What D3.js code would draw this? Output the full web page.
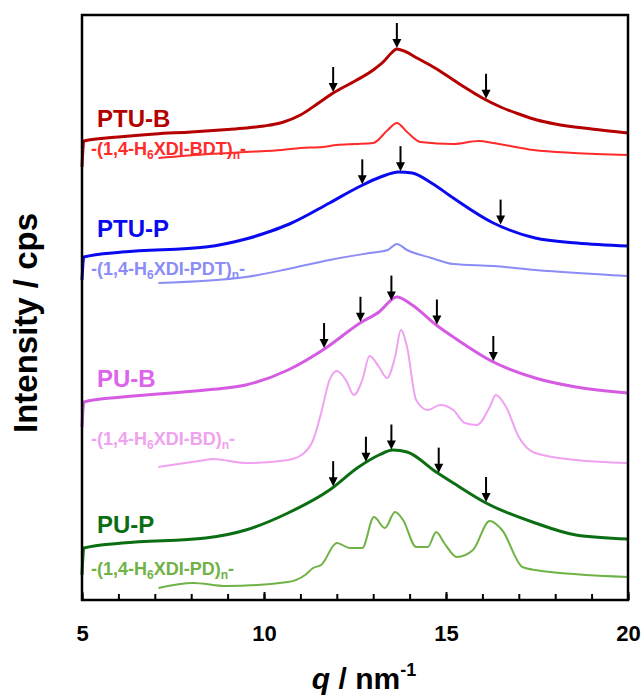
<!DOCTYPE html>
<html>
<head>
<meta charset="utf-8">
<script src="https://cdn.jsdelivr.net/npm/d3@7"></script>
<style>
  body { margin: 0; background: #fff; }
  text { font-family: Arial, "Liberation Sans", sans-serif; font-weight: bold; }
</style>
</head>
<body>
<div class="chart"></div>
<script>
const WIDTH = 644;
const HEIGHT = 700;

const LEFT = 82, RIGHT = 628, TOP = 15, BOTTOM = 600;

// intensity in arbitrary units (offset stacked), q in nm^-1
var ptuB = [[5.0,433],[5.05,459],[6,463],[7,466],[8,468],[9,470.5],[9.5,472],[10,474],[10.5,477.5],[11,485],[11.5,497],[11.9,507],[12.5,519],[13,530],[13.3,539],[13.5,547],[13.65,551],[13.85,549],[14.2,542],[14.7,532],[15,525],[15.5,513],[16,502],[16.5,493],[17,486],[17.5,480],[18,476],[19,471],[20,467]];
var bdt = [[7.1,442],[8.5,446],[9.5,448],[10.5,450],[11,452],[11.6,453],[12,455],[12.5,456],[13,457],[13.4,470],[13.65,477],[13.93,468],[14.3,458],[15.2,456],[15.9,459],[16.3,457],[17.4,450],[18.5,447],[20,445]];
var ptuP = [[5.0,320],[5.05,343],[6.1,348],[8.4,353],[9.5,361],[10.2,369],[10.7,376],[11.8,397],[12.6,413],[13.2,423],[13.7,428],[14.07,427],[14.6,417],[15.2,402],[16.3,377],[17.45,362],[18.6,357],[20,354]];
var pdt = [[7.1,317],[9.5,323],[10.66,331],[11.8,340],[12.9,347],[13.4,350],[13.65,356],[13.93,350],[14.6,342],[15.2,336],[16.3,334],[17.45,330],[20,324]];
var puB = [[5.0,173],[5.05,198],[6.1,203],[8.4,210],[9.5,215],[10.66,230],[11.7,252],[12.64,277],[13.16,288],[13.65,303],[14.07,295],[14.73,275],[15.2,263],[16.3,238],[17.45,222],[18.57,213],[20,207]];
var bd = [[7.1,133],[8.4,140],[8.6,141],[9.5,137],[10.66,140],[11.1,147],[11.35,160],[11.57,187],[11.8,220],[12.0,229],[12.25,220],[12.47,205],[12.7,220],[12.9,244],[13.16,233],[13.38,222],[13.6,243],[13.76,270],[13.93,253],[14.18,200],[14.5,190],[14.84,195],[15.2,190],[15.52,177],[15.85,175],[16.2,193],[16.37,205],[16.65,193],[17.0,163],[17.45,147],[18.57,140],[20,137]];
var puP = [[5.0,25],[5.05,52],[6.1,57],[8.4,62],[9.5,70],[10.66,87],[11.8,110],[12.6,133],[13.16,145],[13.54,150],[13.93,148],[14.73,128],[15.2,117],[16.1,97],[17.45,77],[18.57,65],[20,61]];
var pd = [[7.1,12],[8.05,17],[8.96,14],[10.66,18],[11.13,25],[11.35,32],[11.57,35],[12.0,57],[12.36,52],[12.7,52],[13.02,83],[13.32,72],[13.6,88],[13.82,80],[14.18,53],[14.5,53],[14.73,68],[14.95,57],[15.3,43],[15.74,50],[16.2,79],[16.54,70],[17.1,33],[17.45,30],[20,23]];

var ptuBArrows = [11.9, 13.65, 16.1];
var ptuPArrows = [12.7, 13.75, 16.5];
var puBArrows = [11.65, 12.65, 13.5, 14.75, 16.3];
var puPArrows = [11.9, 12.8, 13.5, 14.8, 16.1];

var xTicks = [5, 10, 15, 20];

var series = [
    {data: ptuB, color: '#b40000', width: 3, arrows: ptuBArrows},
    {data: bdt, color: '#ff2a2a', width: 2},
    {data: ptuP, color: '#0a0af0', width: 3, arrows: ptuPArrows},
    {data: pdt, color: '#8c8cf6', width: 2},
    {data: puB, color: '#d55ce2', width: 3, arrows: puBArrows},
    {data: bd, color: '#f0a2f0', width: 2},
    {data: puP, color: '#0c6e12', width: 3, arrows: puPArrows},
    {data: pd, color: '#6fb245', width: 2}
];

var labels = [
    {main: 'PTU-B', color: '#b40000', y: 127},
    {pre: '-(1,4-H', sub: '6', mid: 'XDI-BDT)', sub2: 'n', post: '-', color: '#ff2a2a', y: 155},
    {main: 'PTU-P', color: '#0a0af0', y: 237},
    {pre: '-(1,4-H', sub: '6', mid: 'XDI-PDT)', sub2: 'n', post: '-', color: '#8c8cf6', y: 275},
    {main: 'PU-B', color: '#dc64ea', y: 387},
    {pre: '-(1,4-H', sub: '6', mid: 'XDI-BD)', sub2: 'n', post: '-', color: '#f0a2f0', y: 445},
    {main: 'PU-P', color: '#0c6e12', y: 533},
    {pre: '-(1,4-H', sub: '6', mid: 'XDI-PD)', sub2: 'n', post: '-', color: '#6fb245', y: 575}
];

var interp = function (data, q) {
    for (var i = 1; i < data.length; i++) {
        if (data[i][0] >= q) {
            var a = data[i - 1], b = data[i];
            var t = (q - a[0]) / (b[0] - a[0]);
            return a[1] + t * (b[1] - a[1]);
        }
    }
    return data[data.length - 1][1];
};

var svg = d3.select('.chart').append('svg')
    .attr('width', WIDTH)
    .attr('height', HEIGHT);

var x = d3.scaleLinear().domain([5, 20]).range([LEFT, RIGHT]);
var y = d3.scaleLinear().domain([0, 585]).range([BOTTOM, TOP]);

var line = d3.line()
    .x(function (d) { return x(d[0]); })
    .y(function (d) { return y(d[1]); })
    .curve(d3.curveMonotoneX);

// curves
series.forEach(function (s) {
    svg.append('path')
        .attr('d', line(s.data))
        .attr('fill', 'none')
        .attr('stroke', s.color)
        .attr('stroke-width', s.width)
        .attr('stroke-linejoin', 'round');
});

// arrows pointing at features
series.forEach(function (s) {
    if (!s.arrows) return;
    s.arrows.forEach(function (q) {
        var px = x(q);
        var tip = y(interp(s.data, q)) - 1;
        var g = svg.append('g');
        g.append('line')
            .attr('x1', px).attr('x2', px)
            .attr('y1', tip - 25).attr('y2', tip - 7)
            .attr('stroke', '#000').attr('stroke-width', 2);
        g.append('path')
            .attr('d', 'M' + (px - 4.5) + ',' + (tip - 9) + 'L' + (px + 4.5) + ',' + (tip - 9) + 'L' + px + ',' + tip + 'Z')
            .attr('fill', '#000');
    });
});

// labels
labels.forEach(function (l) {
    if (l.main) {
        svg.append('text')
            .attr('x', 97).attr('y', l.y)
            .attr('fill', l.color)
            .attr('font-size', 24)
            .text(l.main);
    } else {
        var t = svg.append('text')
            .attr('x', 91).attr('y', l.y)
            .attr('fill', l.color)
            .attr('font-size', 18);
        t.append('tspan').text(l.pre);
        t.append('tspan').attr('font-size', 12).attr('dy', 4).text(l.sub);
        t.append('tspan').attr('dy', -4).text(l.mid);
        t.append('tspan').attr('font-size', 12).attr('dy', 4).text(l.sub2);
        t.append('tspan').attr('dy', -4).text(l.post);
    }
});

// axes
var minorAxis = d3.axisBottom(x).ticks(15).tickSize(-6).tickFormat('');
svg.append('g')
    .attr('transform', 'translate(0,' + BOTTOM + ')')
    .call(minorAxis)
    .call(function (g) { g.select('.domain').remove(); })
    .selectAll('line').attr('stroke', '#000').attr('stroke-width', 2);

var majorAxis = d3.axisBottom(x).tickValues(xTicks).tickSize(-8).tickPadding(25);
var gx = svg.append('g')
    .attr('transform', 'translate(0,' + BOTTOM + ')')
    .call(majorAxis);
gx.select('.domain').remove();
gx.selectAll('line').attr('stroke', '#000').attr('stroke-width', 2);
gx.selectAll('text')
    .attr('font-size', 22)
    .attr('font-family', 'Arial, "Liberation Sans", sans-serif')
    .attr('font-weight', 'bold')
    .attr('fill', '#000');

svg.append('rect')
    .attr('x', LEFT).attr('y', TOP)
    .attr('width', RIGHT - LEFT).attr('height', BOTTOM - TOP)
    .attr('fill', 'none')
    .attr('stroke', '#000')
    .attr('stroke-width', 2.5);

// axis titles
var xt = svg.append('text')
    .attr('x', 364).attr('y', 689)
    .attr('text-anchor', 'middle')
    .attr('font-size', 30);
xt.append('tspan').attr('font-style', 'italic').text('q');
xt.append('tspan').text(' / nm');
xt.append('tspan').attr('font-size', 18).attr('dy', -13).text('-1');

svg.append('text')
    .attr('transform', 'translate(37,323) rotate(-90)')
    .attr('text-anchor', 'middle')
    .attr('font-size', 33)
    .text('Intensity / cps');
</script>
</body>
</html>
